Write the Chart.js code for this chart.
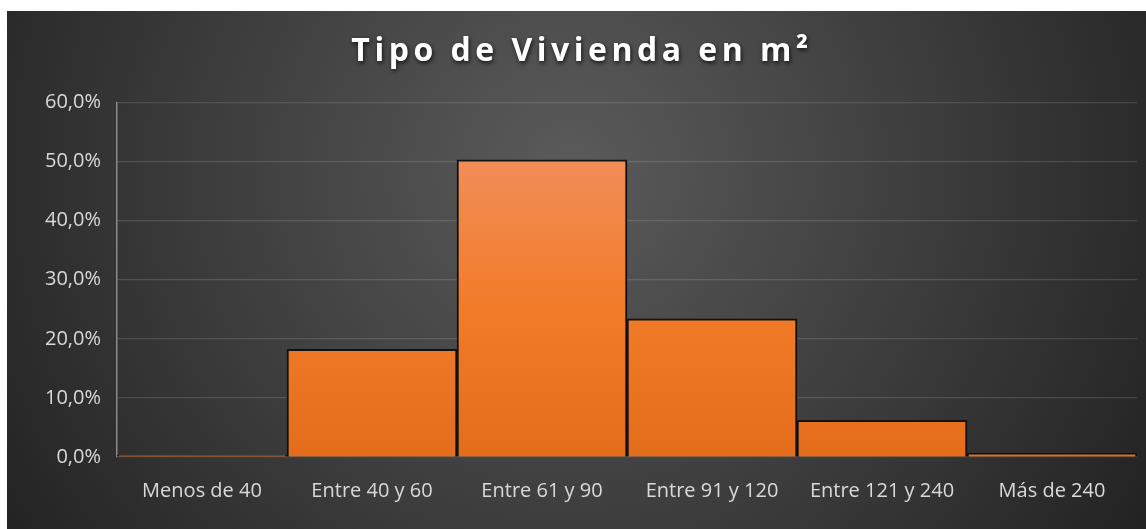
<!DOCTYPE html>
<html>
<head>
<meta charset="utf-8">
<script src="https://cdn.jsdelivr.net/npm/chart.js@4"></script>
<style>
  html, body { margin: 0; padding: 0; background: #ffffff; }
  #wrap { width: 1146px; height: 529px; }
</style>
</head>
<body>
<div id="wrap"><canvas id="myChart"></canvas></div>
<script>
// Datos del gráfico
var categorias = ['Menos de 40', 'Entre 40 y 60', 'Entre 61 y 90', 'Entre 91 y 120', 'Entre 121 y 240', 'Más de 240'];
var porcentajes = [0.3, 18.2, 50.3, 23.4, 6.2, 0.6];
var titulo = 'Tipo de Vivienda en m²';
var ejeMax = 60;
var ejePaso = 10;

// Fondo oscuro con degradado radial
var fondo = {
  id: 'fondo',
  beforeDraw: function (chart) {
    var ctx = chart.ctx;
    ctx.save();
    ctx.fillStyle = '#ffffff';
    ctx.fillRect(0, 0, chart.width, chart.height);
    var g = ctx.createRadialGradient(570, 170, 20, 570, 170, 720);
    g.addColorStop(0, '#595959');
    g.addColorStop(0.45, '#3f3f3f');
    g.addColorStop(1, '#1f1f1f');
    ctx.fillStyle = g;
    ctx.fillRect(7, 11, chart.width - 7, chart.height - 11);
    ctx.restore();
  },
  afterInit: function (chart) {
    // espaciado de letras y sombra del título
    var tb = chart.titleBlock;
    if (!tb) return;
    var orig = tb.draw;
    tb.draw = function () {
      var ctx = chart.ctx;
      ctx.save();
      ctx.letterSpacing = '4.5px';
      ctx.translate(10, 0);
      ctx.shadowColor = 'rgba(0,0,0,0.75)';
      ctx.shadowBlur = 4;
      ctx.shadowOffsetX = 1;
      ctx.shadowOffsetY = 2;
      orig.apply(this, arguments);
      ctx.restore();
    };
  }
};

function rellenoBarras(context) {
  var chart = context.chart;
  var area = chart.chartArea;
  if (!area) return '#f07a24';
  var y = chart.scales.y;
  var g = chart.ctx.createLinearGradient(0, y.getPixelForValue(50), 0, y.getPixelForValue(0));
  g.addColorStop(0, '#f18d57');
  g.addColorStop(0.5, '#f27b28');
  g.addColorStop(1, '#e46d1c');
  return g;
}

var ctx = document.getElementById('myChart').getContext('2d');
var myChart = new Chart(ctx, {
  type: 'bar',
  data: {
    labels: categorias,
    datasets: [{
      data: porcentajes,
      backgroundColor: rellenoBarras,
      borderColor: '#111111',
      borderWidth: 2,
      categoryPercentage: 1,
      barPercentage: 1
    }]
  },
  options: {
    responsive: true,
    maintainAspectRatio: false,
    animation: false,
    layout: { padding: { left: 7, right: 9, top: 11, bottom: 0 } },
    plugins: {
      legend: { display: false },
      tooltip: { enabled: false },
      title: {
        display: true,
        text: titulo,
        color: '#ffffff',
        font: { family: 'Open Sans', size: 32, weight: 'bold', lineHeight: 1.2 },
        padding: { top: 22, bottom: 31 }
      }
    },
    scales: {
      x: {
        grid: { display: false },
        border: { display: false },
        ticks: {
          color: '#d9d9d9',
          font: { family: 'Open Sans', size: 20 },
          padding: 14,
          maxRotation: 0
        },
        afterFit: function (scale) { scale.height = 72; }
      },
      y: {
        min: 0,
        max: ejeMax,
        border: { display: true, color: '#8a8a8a', width: 1.5 },
        grid: { color: 'rgba(255,255,255,0.13)', lineWidth: 1.2, drawTicks: false },
        ticks: {
          stepSize: ejePaso,
          color: '#d9d9d9',
          font: { family: 'Open Sans', size: 20 },
          padding: 16,
          callback: function (v) { return v.toFixed(1).replace('.', ',') + '%'; }
        },
        afterFit: function (scale) { scale.width = 110; }
      }
    }
  },
  plugins: [fondo]
});
</script>
</body>
</html>
